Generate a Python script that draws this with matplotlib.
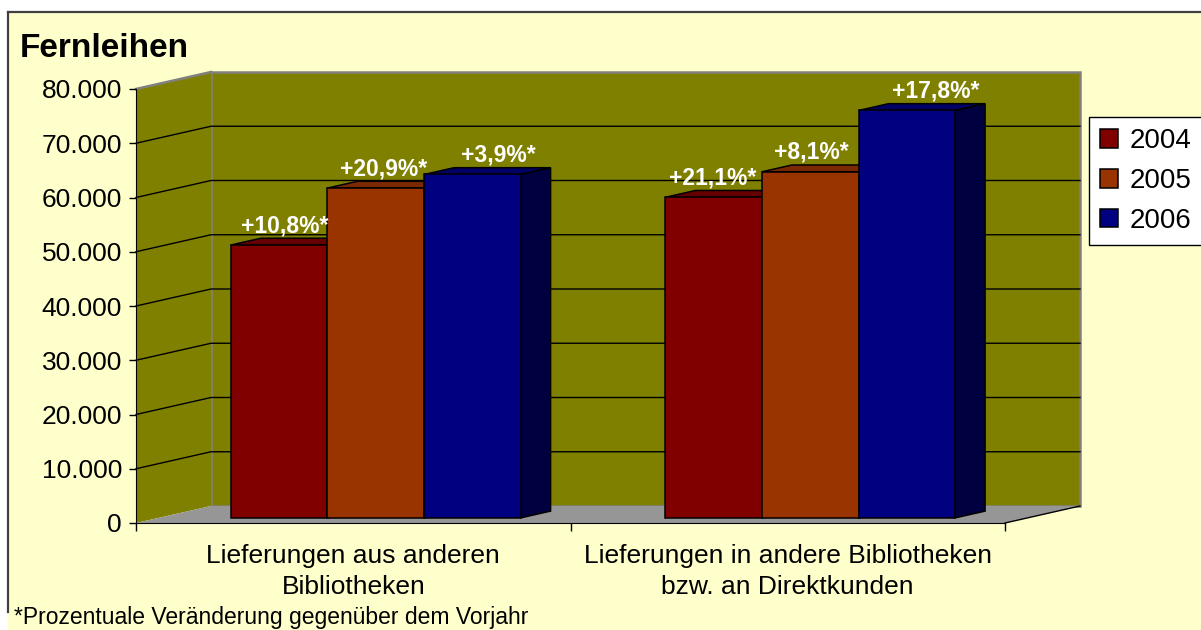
import matplotlib
matplotlib.use("Agg")
import matplotlib.pyplot as plt
from matplotlib.patches import Polygon, Rectangle, Patch

plt.rcParams['font.family'] = ['Liberation Sans', 'DejaVu Sans']

# ---- data ----
title = "Fernleihen"
categories = ["Lieferungen aus anderen\nBibliotheken",
              "Lieferungen in andere Bibliotheken\nbzw. an Direktkunden"]
years = ["2004", "2005", "2006"]
values_2004 = [50300, 59100]
values_2005 = [60800, 63800]
values_2006 = [63300, 75100]
changes_2004 = ["+10,8%*", "+21,1%*"]
changes_2005 = ["+20,9%*", "+8,1%*"]
changes_2006 = ["+3,9%*", "+17,8%*"]
yticks = [0, 10000, 20000, 30000, 40000, 50000, 60000, 70000, 80000]
footnote = "*Prozentuale Veränderung gegenüber dem Vorjahr"

series = [values_2004, values_2005, values_2006]
changes = [changes_2004, changes_2005, changes_2006]

# ---- styles ----
front_cols = ["#800000", "#993300", "#000080"]
top_cols = ["#660000", "#7a2900", "#000066"]
side_cols = ["#400000", "#4d1a00", "#000040"]
bg = "#FFFFCC"
wall = "#808000"
floor_col = "#969696"
# label pixel offsets (x) per series/category
lab_dx = [[5, -1], [8, 1], [26, 29]]

W, H = 1201, 630
fig = plt.figure(figsize=(W / 100, H / 100), dpi=100)
fig.patch.set_facecolor("white")

# chart area background with border
bgrect = Rectangle((8 / W, -0.1), 1.2, (1 - 12 / H) + 0.1,
                   transform=fig.transFigure, facecolor=bg, edgecolor="none")
bgrect.set_zorder(-5)
fig.add_artist(bgrect)
l1 = plt.Line2D([8 / W, 8 / W], [1 - 612 / H, 1 - 12 / H],
                transform=fig.transFigure, color="#404040", lw=1.6)
l2 = plt.Line2D([8 / W, 1.0], [1 - 12 / H, 1 - 12 / H],
                transform=fig.transFigure, color="#404040", lw=1.6)
l1.set_zorder(-4)
l2.set_zorder(-4)
fig.add_artist(l1)
fig.add_artist(l2)

ax = fig.add_axes([136 / W, (H - 523) / H, 869 / W, 434 / H])
ax.set_zorder(1)
ax.set_xlim(0, 2)
ax.set_ylim(0, 80000)
ax.patch.set_visible(False)

ppx = 869 / 2.0          # pixels per x data unit
ppy = 434 / 80000.0      # pixels per y data unit
DX = 75 / ppx
DY = 17 / ppy
ymax = yticks[-1]

# walls & floor
ax.add_patch(Polygon([(DX, DY), (2 + DX, DY), (2 + DX, ymax + DY), (DX, ymax + DY)],
                     closed=True, facecolor=wall, edgecolor="#808080", lw=1.8,
                     clip_on=False, zorder=1))
ax.add_patch(Polygon([(0, 0), (0, ymax), (DX, ymax + DY), (DX, DY)],
                     closed=True, facecolor=wall, edgecolor="none",
                     clip_on=False, zorder=1))
ax.plot([0, DX], [ymax, ymax + DY], color="#808080", lw=1.8, clip_on=False, zorder=1.5)
ax.add_patch(Polygon([(0, 0), (2, 0), (2 + DX, DY), (DX, DY)],
                     closed=True, facecolor=floor_col, edgecolor="none",
                     clip_on=False, zorder=1))
ax.plot([2, 2 + DX], [0, DY], color="black", lw=1, clip_on=False, zorder=1.5)
for v in yticks[1:-1]:
    ax.plot([0, DX, 2 + DX], [v, v + DY, v + DY], color="black", lw=1,
            clip_on=False, zorder=1.6)

# bars
n = len(series)
bw = 1.0 / (n + 1.5)
d0, d1 = 0.3, 0.7
for ci in range(len(categories)):
    for si in range(n):
        v = series[si][ci]
        xc = ci + 0.5 + (si - (n - 1) / 2) * bw + d0 * DX
        b = d0 * DY
        xl, xr = xc - bw / 2, xc + bw / 2
        top = b + v
        ddx, ddy = (d1 - d0) * DX, (d1 - d0) * DY
        z = 3 + ci * 10 + si
        ax.add_patch(Polygon([(xl, top), (xr, top), (xr + ddx, top + ddy), (xl + ddx, top + ddy)],
                             closed=True, facecolor=top_cols[si], edgecolor="black",
                             lw=1.1, clip_on=False, zorder=z))
        ax.add_patch(Polygon([(xr, b), (xr, top), (xr + ddx, top + ddy), (xr + ddx, b + ddy)],
                             closed=True, facecolor=side_cols[si], edgecolor="black",
                             lw=1.1, clip_on=False, zorder=z))
        ax.bar([xc], [v], bottom=b, width=bw, color=front_cols[si], edgecolor="black",
               lw=1.1, zorder=z + 0.5, clip_on=False)
        ax.annotate(changes[si][ci], (xc, top), xytext=(lab_dx[si][ci], 13),
                    textcoords="offset pixels", ha="center", va="baseline",
                    color="white", fontsize=16.5, fontweight="bold", zorder=50,
                    annotation_clip=False)

# axes styling
for s in ["top", "right"]:
    ax.spines[s].set_visible(False)
ax.spines["left"].set_zorder(2)
ax.spines["bottom"].set_zorder(2)
ax.set_yticks(yticks)
ax.set_yticklabels([f"{t:,.0f}".replace(",", ".") for t in yticks])
ax.tick_params(axis="y", direction="out", length=5, width=1, pad=5, labelsize=19)
ax.set_xticks([0, 1, 2])
ax.set_xticklabels(["", "", ""])
ax.tick_params(axis="x", which="major", direction="out", length=6, width=1)
ax.set_xticks([0.5, 1.5], minor=True)
ax.set_xticklabels(categories, minor=True, fontsize=19)
ax.tick_params(axis="x", which="minor", length=0, pad=15)
for t in ax.get_xticklabels(minor=True):
    t.set_linespacing(1.4)

# title & footnote
fig.text(20 / W, 1 - 57 / H, title, fontsize=24, fontweight="bold", va="baseline", ha="left")
fig.text(14 / W, 6 / H, footnote, fontsize=16.5, va="baseline", ha="left",
         bbox=dict(facecolor=bg, edgecolor="none", pad=1))

# legend
handles = [Patch(facecolor=front_cols[i], edgecolor="black", lw=1.1) for i in range(n)]
leg = fig.legend(handles, years, loc="upper left", bbox_to_anchor=(1089 / W, 1 - 117 / H),
                 bbox_transform=fig.transFigure, fontsize=20, frameon=True, fancybox=False,
                 edgecolor="black", facecolor="white", framealpha=1, borderaxespad=0,
                 handlelength=0.65, handleheight=0.65, handletextpad=0.4,
                 labelspacing=0.5, borderpad=0.4)
leg.set_zorder(10)

fig.savefig("out.png", dpi=100)
